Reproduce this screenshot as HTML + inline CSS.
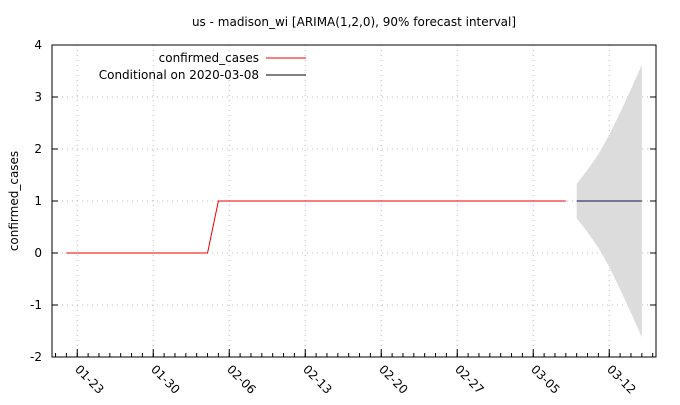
<!DOCTYPE html>
<html><head><meta charset="utf-8"><style>
body{margin:0;background:#fff}
text{font-family:"DejaVu Sans","Liberation Sans",sans-serif;font-size:12px;fill:#000}
</style></head><body>
<svg id="chart" width="680" height="400" xmlns="http://www.w3.org/2000/svg">
<text x="354" y="26" text-anchor="middle">us - madison_wi [ARIMA(1,2,0), 90% forecast interval]</text>
<text transform="translate(18,201) rotate(-90)" text-anchor="middle">confirmed_cases</text>
<g id="grid"></g><g id="marks"></g><g id="axes"></g>
<g>
<text x="259" y="62" text-anchor="end">confirmed_cases</text>
<line x1="266" x2="306" y1="58" y2="58" stroke="#e00" stroke-width="1"/>
<text x="259" y="79" text-anchor="end">Conditional on 2020-03-08</text>
<line x1="266" x2="306" y1="75" y2="75" stroke="#000" stroke-width="1"/>
</g>
</svg>
<script>
const yTicks=[-2,-1,0,1,2,3,4];
const xTickLabels=["01-23","01-30","02-06","02-13","02-20","02-27","03-05","03-12"];
const xTickDays=[1,8,15,22,29,36,43,50];
const obsDays=[0,1,2,3,4,5,6,7,8,9,10,11,12,13,14,15,16,17,18,19,20,21,22,23,24,25,26,27,28,29,30,31,32,33,34,35,36,37,38,39,40,41,42,43,44,45,46];
const obsValues=[0,0,0,0,0,0,0,0,0,0,0,0,0,0,1,1,1,1,1,1,1,1,1,1,1,1,1,1,1,1,1,1,1,1,1,1,1,1,1,1,1,1,1,1,1,1,1];
const fcDays=[47,48,49,50,51,52,53];
const fcValues=[1,1,1,1,1,1,1];
const fcUpper=[1.33,1.6,1.9,2.27,2.7,3.15,3.62];
const fcLower=[0.67,0.4,0.1,-0.27,-0.7,-1.15,-1.62];
const L=52,R=656,T=45,B=357,dayPx=10.857,x0=66.4;
const X=d=>x0+d*dayPx, Y=v=>B-(v+2)*(B-T)/6;
const NS="http://www.w3.org/2000/svg";
function mk(p,t,a){const e=document.createElementNS(NS,t);for(const k in a)e.setAttribute(k,a[k]);document.getElementById(p).appendChild(e);return e;}
yTicks.forEach(v=>{
 if(v>-2&&v<4){const g=mk('grid','line',{x1:L,x2:R,y1:Y(v),y2:Y(v),stroke:'#bbb','stroke-dasharray':'1,4'});
 
 }
 const t=mk('axes','line',{x1:L,x2:L+6,y1:Y(v),y2:Y(v),stroke:'#000'});
 
 
 const t2=mk('axes','line',{x1:R-6,x2:R,y1:Y(v),y2:Y(v),stroke:'#000'});
 
 
 const l=mk('axes','text',{x:L-10,y:Y(v)+4,'text-anchor':'end'});l.textContent=v;
 
 
});
xTickDays.forEach((d,i)=>{
 const g=mk('grid','line',{x1:X(d),x2:X(d),y1:T,y2:B,stroke:'#bbb','stroke-dasharray':'1,4'});
 
 
 const t=mk('axes','line',{x1:X(d),x2:X(d),y1:B,y2:B-8,stroke:'#000'});
 
 
 const l=mk('axes','text',{transform:`translate(${X(d)-3},${B+13}) rotate(45)`});l.textContent=xTickLabels[i];
 
 
});
for(let d=-1;X(d)<=R;d++){if(X(d)<L)continue;
 const m=mk('axes','line',{x1:X(d),x2:X(d),y1:B,y2:B-4,stroke:'#000'});
 
 }
let pts=fcDays.map((d,i)=>X(d)+','+Y(fcUpper[i])).concat(fcDays.slice().reverse().map((d,j)=>X(d)+','+Y(fcLower[fcDays.length-1-j])));
const band=mk('marks','polygon',{points:pts.join(' '),fill:'#dcdcdc'});


const obs=mk('marks','polyline',{points:obsDays.map((d,i)=>X(d)+','+Y(obsValues[i])).join(' '),fill:'none',stroke:'#e00','stroke-width':1});


const fc=mk('marks','polyline',{points:fcDays.map((d,i)=>X(d)+','+Y(fcValues[i])).join(' '),fill:'none',stroke:'#101050','stroke-width':1});


const fr=mk('axes','rect',{x:L,y:T,width:R-L,height:B-T,fill:'none',stroke:'#000','stroke-width':1});


</script>
</body></html>
